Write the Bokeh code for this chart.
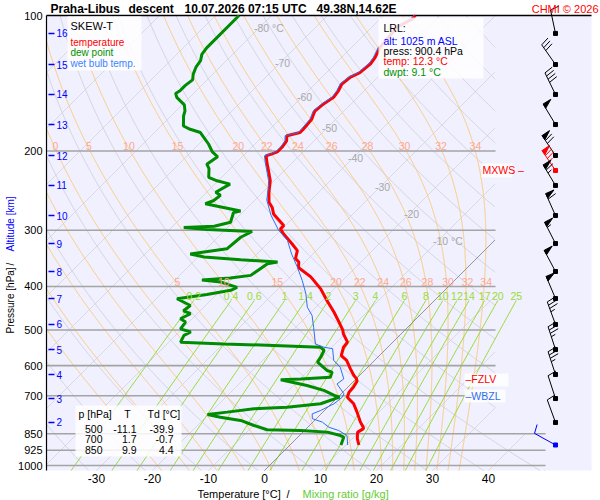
import numpy as np
from bokeh.plotting import figure
from bokeh.models import Range1d, Label
from bokeh.embed import file_html
from bokeh.resources import INLINE

FONT = "Liberation Sans"

# ---------------- data ----------------
temp = [(900.4, 12.3), (872, 10.9), (849, 10.0), (843, 9.8), (828, 10.2), (822, 9.9), (801, 8.5),
        (761, 6.1), (729, 4.0), (705, 1.7), (687, 1.1), (670, 1.0), (650, 0.6), (641, 0.0),
        (631, -1.0), (610, -2.8), (584, -5.0), (570, -6.8), (546, -7.9), (532, -8.1), (510, -10.3),
        (500, -11.1), (480, -13.2), (456, -15.9), (430, -19.2), (405, -22.4), (381, -26.3),
        (363, -30.2), (353, -31.1), (347, -32.3), (333, -33.4), (322, -35.5), (306, -38.8),
        (298, -40.3), (293, -40.3), (285, -42.1), (276, -44.2), (267, -45.6), (260, -47.1),
        (247, -48.9), (233, -50.7), (223, -52.5), (212, -54.6), (205, -55.9), (203, -55.2),
        (201, -54.6), (196, -54.6), (190, -54.9), (185, -55.8), (182, -54.0), (179, -54.0),
        (170, -54.3), (163, -55.2), (157, -54.9), (152, -54.3), (147, -54.6), (142, -55.2),
        (137, -54.9), (134, -54.0), (128, -53.7), (124, -54.0), (118, -54.9), (106, -55.5),
        (102, -54.3), (100, -54.3)]

dewp = [(900.4, 9.1), (865, 8.2), (858, 7.3), (843, 4.4), (836, -0.7), (833, -6.8), (815, -9.9),
        (794, -13.2), (781, -17.4), (770, -20.2), (761, -17.1), (748, -12.9), (742, -7.3),
        (729, -1.9), (705, 0.3), (700, -0.7), (681, -3.7), (664, -7.6), (645, -13.3), (642, -9.9),
        (637, -4.9), (620, -5.5), (615, -6.7), (589, -9.9), (574, -10.2), (555, -10.8),
        (546, -12.0), (541, -20.7), (537, -29.9), (532, -37.9), (514, -38.5), (505, -37.9),
        (497, -40.3), (480, -40.6), (472, -42.1), (460, -41.2), (453, -43.0), (441, -42.7),
        (426, -46.3), (417, -41.7), (408, -38.2), (402, -37.6), (391, -41.5), (387, -45.2),
        (383, -40.5), (378, -37.3), (356, -36.4), (353, -34.9), (349, -41.9), (344, -48.9),
        (339, -51.9), (330, -46.3), (311, -45.9), (302, -44.9), (299, -53.2), (296, -57.8),
        (294, -52.6), (288, -50.4), (274, -51.6), (272, -50.6), (267, -54.3), (262, -58.2),
        (258, -57.3), (251, -57.0), (247, -58.4), (237, -57.3), (233, -60.2), (229, -62.3),
        (219, -63.8), (214, -65.0), (206, -64.4), (201, -66.2), (193, -68.3), (182, -71.8),
        (179, -74.2), (176, -76.0), (167, -77.8), (163, -78.4), (158, -79.6), (152, -82.3),
        (149, -83.2), (147, -82.9), (143, -82.9), (139, -82.6), (135, -83.5), (130, -84.3),
        (126, -84.6), (122, -85.5), (118, -85.8), (100, -85.8)]

wetb = [(900.4, 10.3), (858, 8.5), (836, 6.1), (822, 3.75), (801, 1.7), (787, -0.7), (768, -1.6),
        (755, -0.7), (729, 0.5), (705, 0.8), (693, 0.5), (659, -2.5), (642, -2.2), (605, -4.9),
        (584, -7.3), (550, -9.6), (546, -11.4), (537, -13.5), (493, -16.8), (464, -19.2),
        (445, -21.5), (415, -24.2), (388, -27.2), (362, -30.5), (339, -33.8), (316, -37.0),
        (300, -40.4), (278, -44.4), (257, -47.9), (243, -49.6), (233, -51.0), (223, -52.8),
        (212, -54.9), (205, -56.2), (201, -54.9), (196, -54.9), (190, -55.2), (185, -56.1),
        (182, -54.3), (170, -54.6), (163, -55.5), (157, -55.2), (152, -54.6), (147, -54.9),
        (142, -55.5), (137, -55.2), (134, -54.3), (128, -54.0), (124, -54.3), (118, -55.2),
        (106, -55.8), (102, -54.6), (100, -54.6)]

alt_km = [16, 15, 14, 13, 12, 11, 10, 9, 8, 7, 6, 5, 4, 3, 2]
alt_p = [109.6, 128.5, 149.8, 174.7, 204.7, 238.6, 278.3, 321.2, 370.6, 425.5, 486.0, 552.5, 627.8, 709.9, 802.3]

wind_p = [109.6, 128.5, 149.8, 174.7, 204.7, 221.0, 238.6, 278.3, 321.2, 370.6, 425.5, 486.0, 552.5, 627.8, 709.9, 802.3, 900.4]
wind_dir = [348, 325, 334, 329, 326, 326, 329, 336, 333, 332, 337, 340, 342, 342, 342, 340, 299]
wind_kt = [10, 30, 40, 50, 70, 75, 65, 60, 55, 50, 50, 35, 35, 35, 10, 10, 10]
wind_col = ["black"] * 5 + ["red"] + ["black"] * 10 + ["blue"]

mxws_p = 221.0
fzlv_p = 644.0
wbzl_p = 699.0

p_ticks = [100, 200, 300, 400, 500, 600, 700, 850, 925, 1000]
t_ticks = [-30, -20, -10, 0, 10, 20, 30, 40]
iso_T = list(range(-130, 60, 10))
theta_K = list(range(220, 470, 10))
thw_vals = [-20, -15, -10, -5, 0, 5, 10, 15, 20, 22, 24, 26, 28, 30, 32, 34]
thw_row1 = [0, 5, 10, 15, 20, 22, 24, 26, 28, 30, 32, 34]
thw_row2 = [5, 10, 15, 20, 22, 24, 26, 28, 30, 32, 34]
mix_vals = [0.2, 0.4, 0.6, 1, 1.4, 2, 3, 4, 6, 8, 10, 12, 14, 17, 20, 25]
mix_text = ["0.2", "0.4", "0.6", "1", "1.4", "2", "3", "4", "6", "8", "10", "12", "14", "17", "20", "25"]
iso_lab = [(-80, 27, "-80 °C"), (-70, 62, "-70"), (-60, 96, "-60"), (-50, 127, "-50"),
           (-40, 157, "-40"), (-30, 186, "-30"), (-20, 213, "-20"), (-10, 240, "-10 °C")]
table_p = ["500", "700", "850"]
table_t = ["-11.1", "1.7", "9.9"]
table_td = ["-39.9", "-0.7", "4.4"]

# ---------------- geometry ----------------
W, H = 600, 500
PXD = 450.0          # pixels per pressure decade
PXT = 5.6            # pixels per degree C
SKEW = PXD / PXT
PB = 1000 * 10 ** (5 / PXD)   # pressure at the bottom of the diagram


def Xref(x):
    return (x - 264) / PXT


def Pref(y):
    return 100 * 10 ** ((y - 15) / PXD)


XL = Xref(46)
XRR = Xref(591)
XCLIP = Xref(495)
XCLIP2 = Xref(545)


def X(T, pp):
    return np.asarray(T, float) + SKEW * np.log10(PB / np.asarray(pp, float))


def clip(xs, pp):
    xs = np.array(xs, float)
    pp = np.asarray(pp, float)
    lim = np.where(pp >= 850, XCLIP2, XCLIP)
    xs[(xs > lim) | (xs < XL)] = np.nan
    return xs


p = figure(width=W, height=H, x_range=Range1d(Xref(0), Xref(W)), y_range=Range1d(Pref(H), Pref(0)),
           y_axis_type="log", output_backend="svg", toolbar_location=None,
           x_axis_location=None, y_axis_location=None, min_border=0)
p.background_fill_color = "white"
p.border_fill_color = "white"
p.outline_line_color = None
p.grid.visible = False

# diagram background
p.quad(left=[XL], right=[XRR], top=[100], bottom=[PB], fill_color="#F0F0FF", line_color=None)

pg = np.logspace(np.log10(PB), 2, 700)

# dry adiabats
xs, ys = [], []
for th in theta_K:
    T = th * (pg / 1000.0) ** 0.2857 - 273.15
    xs.append(clip(X(T, pg), pg)); ys.append(pg)
p.multi_line(xs, ys, line_color="#CFCFD8", line_width=0.9)

# isotherms
xs, ys = [], []
for t in iso_T:
    xs.append(clip(X(np.full_like(pg, t), pg), pg)); ys.append(pg)
p.multi_line(xs, ys, line_color="#CFCFD8", line_width=0.9)


# moist adiabats
def dTdp(T, pp):
    Tc = T - 273.15
    es = 6.112 * np.exp(17.67 * Tc / (Tc + 243.5))
    rs = 0.622 * es / (pp - es)
    return (287.04 * T + 2.501e6 * rs) / (pp * (1005.7 + 2.501e6 ** 2 * rs * 0.622 / (287.04 * T * T)))


def moist(tw, grid):
    out = []
    T = tw + 273.15
    pp = grid[0]
    out.append(T)
    for pn in grid[1:]:
        h = pn - pp
        k1 = dTdp(T, pp)
        k2 = dTdp(T + h * k1 / 2, pp + h / 2)
        k3 = dTdp(T + h * k2 / 2, pp + h / 2)
        k4 = dTdp(T + h * k3, pp + h)
        T = T + h * (k1 + 2 * k2 + 2 * k3 + k4) / 6
        pp = pn
        out.append(T)
    return np.array(out) - 273.15


pu = np.linspace(1000, 100, 451)
pdn = np.linspace(1000, PB, 8)
moist_x = {}
xs, ys = [], []
for tw in thw_vals:
    Tu = moist(tw, pu)
    Tdn = moist(tw, pdn)
    pp = np.concatenate([pdn[::-1], pu[1:]])
    TT = np.concatenate([Tdn[::-1], Tu[1:]])
    Tg = np.interp(-np.log(pg), -np.log(pp), TT)
    xg = X(Tg, pg)
    moist_x[tw] = xg
    xs.append(clip(xg, pg)); ys.append(pg)
p.multi_line(xs, ys, line_color="#FFC878", line_width=1)

# mixing ratio lines
p_mix_top = Pref(300)
pm = np.logspace(np.log10(PB), np.log10(p_mix_top), 60)
xs, ys = [], []
mix_top_x = []
for w in mix_vals:
    e = pm * w / (622.0 + w)
    a = np.log(e / 6.112)
    Tdw = 243.5 * a / (17.67 - a)
    xx = X(Tdw, pm)
    xx[xx < XL] = np.nan
    xs.append(xx); ys.append(pm)
    mix_top_x.append(xx[-1])
p.multi_line(xs, ys, line_color="#9ADC36", line_width=1)

# isobars
for pr in p_ticks[1:]:
    xr = XCLIP2 if pr >= 850 else XCLIP
    p.line([XL, xr], [pr, pr], line_color="#A4A4A4", line_width=1.6)

# 0 deg isotherm, darker
p.line(clip(X(np.zeros_like(pg), pg), np.full_like(pg, 500.0)), pg, line_color="#808080", line_width=1)

# frame: top and left
p.line([XL, XRR], [100, 100], line_color="black", line_width=1.5)
p.line([XL, XL], [100, PB], line_color="black", line_width=1.2)


def lab(x, y, text, color="black", size="11px", align="left", base="middle", angle=0.0, style="normal"):
    p.add_layout(Label(x=x, y=y, text=text, text_color=color, text_font=FONT, text_font_size=size,
                       text_align=align, text_baseline=base, angle=angle, text_font_style=style))


# line labels
for (t, yy, txt) in iso_lab:
    pr = Pref(yy)
    lab(float(X(t, pr)) - 1.0, pr, txt, color="#A8A8A8", size="10.5px")
for row, yy in ((thw_row1, 145), (thw_row2, 281)):
    pr = Pref(yy)
    for tw in row:
        xv = float(np.interp(-np.log(pr), -np.log(pg), moist_x[tw]))
        lab(xv + 0.3, pr, str(tw), color="#FFA88C", size="10.5px", align="center")
for xv, txt in zip(mix_top_x, mix_text):
    lab(float(xv), Pref(295), txt, color="#9ADC36", size="10.5px", align="center")

# profiles
tp, tt = zip(*temp)
dp, dt = zip(*dewp)
wp, wt = zip(*wetb)
p.line(X(tt, tp), tp, line_color="#FF0000", line_width=3)
p.line(X(dt, dp), dp, line_color="#008C00", line_width=3)
p.line(X(wt, wp), wp, line_color="#2F6FF0", line_width=1)

# altitude ticks
for km, pr in zip(alt_km, alt_p):
    p.line([Xref(48), Xref(54)], [pr, pr], line_color="#0000FF", line_width=1.5)
    lab(Xref(56), pr, str(km), color="#0000FF", size="10px")

# white boxes
p.quad(left=[Xref(67), Xref(378), Xref(75), Xref(481), Xref(464), Xref(464)],
       right=[Xref(141), Xref(483), Xref(181), Xref(512), Xref(508), Xref(505)],
       top=[Pref(16), Pref(17), Pref(405), mxws_p / 10 ** (7 / PXD), fzlv_p / 10 ** (6 / PXD), wbzl_p / 10 ** (6 / PXD)],
       bottom=[Pref(70), Pref(78), Pref(456), mxws_p * 10 ** (7 / PXD), fzlv_p * 10 ** (7 / PXD), wbzl_p * 10 ** (7 / PXD)],
       fill_color="white", fill_alpha=0.85, line_color=None)

# legend
lab(Xref(70), Pref(25), "SKEW-T", size="11px")
lab(Xref(70), Pref(42), "temperature", color="#FF0000", size="10px")
lab(Xref(70), Pref(52), "dew point", color="#009000", size="10px")
lab(Xref(70), Pref(63), "wet bulb temp.", color="#3C82FF", size="10px")

# LRL box
lab(Xref(383), Pref(27), "LRL:", size="10.5px")
lab(Xref(383), Pref(40), "alt: 1025 m ASL", color="#0000FF", size="10.5px")
lab(Xref(383), Pref(50), "press: 900.4 hPa", size="10.5px")
lab(Xref(383), Pref(60), "temp: 12.3 °C", color="#FF0000", size="10.5px")
lab(Xref(383), Pref(71), "dwpt: 9.1 °C", color="#009000", size="10.5px")

# table
lab(Xref(78), Pref(413), "p [hPa]", size="10.5px")
lab(Xref(127), Pref(413), "T", size="10.5px", align="center")
lab(Xref(147), Pref(413), "Td [°C]", size="10.5px")
for i, yy in enumerate([428, 438, 449]):
    lab(Xref(102), Pref(yy), table_p[i], size="10.5px", align="right")
    lab(Xref(136), Pref(yy), table_t[i], size="10.5px", align="right")
    lab(Xref(173), Pref(yy), table_td[i], size="10.5px", align="right")

# level markers
lab(Xref(482), mxws_p, "MXWS –", color="#FF0000", size="10.5px")
lab(Xref(465), fzlv_p, "–FZLV", color="#FF0000", size="10.5px")
lab(Xref(465), wbzl_p, "–WBZL", color="#2F6FF0", size="10.5px")

# wind barbs
X0 = Xref(555)
seg_x, seg_y, seg_c = [], [], []
tri_x, tri_y, tri_c = [], [], []
for pr, d, kt, col in zip(wind_p, wind_dir, wind_kt, wind_col):
    rad = np.deg2rad(d)
    s = np.array([np.sin(rad), np.cos(rad)])
    b = np.array([np.cos(rad), -np.sin(rad)])

    def pt(v, pr=pr):
        return X0 + v[0] / PXT, pr * 10 ** (-v[1] / PXD)

    L = 24.0
    segs = [[pt(np.zeros(2)), pt(s * L)]]
    tris = []
    n50 = kt // 50
    r = kt - 50 * n50
    n10 = r // 10
    n5 = (r - 10 * n10) // 5
    pos = L
    for i in range(n50):
        tris.append([pt(s * pos), pt(s * pos + b * 9), pt(s * (pos - 5))])
        pos -= 6
    for i in range(n10):
        segs.append([pt(s * pos), pt(s * (pos + 2) + b * 9)])
        pos -= 3.5
    if n5:
        if n50 == 0 and n10 == 0:
            pos -= 3.5
        segs.append([pt(s * pos), pt(s * (pos + 1) + b * 4.5)])
    for sg in segs:
        seg_x.append([sg[0][0], sg[1][0]]); seg_y.append([sg[0][1], sg[1][1]]); seg_c.append(col)
    for tr in tris:
        tri_x.append([q[0] for q in tr]); tri_y.append([q[1] for q in tr]); tri_c.append(col)
p.multi_line(seg_x, seg_y, line_color=seg_c, line_width=1)
if tri_x:
    p.patches(tri_x, tri_y, fill_color=tri_c, line_color=tri_c, line_width=1)
p.scatter([X0] * len(wind_p), wind_p, marker="square", size=4, color=wind_col)

# axis tick labels
for pr in p_ticks:
    lab(Xref(42), pr, str(pr), size="11px", align="right")
for t in t_ticks:
    lab(float(t), Pref(478), str(t), size="12px", align="center")

# title
ty = Pref(8)
lab(Xref(50), ty, "Praha-Libus", size="12px", style="bold")
lab(Xref(128), ty, "descent", size="12px", style="bold")
lab(Xref(184), ty, "10.07.2026 07:15 UTC", size="12px", style="bold")
lab(Xref(316), ty, "49.38N,14.62E", size="12px", style="bold")
lab(Xref(598), ty, "CHMI © 2026", color="#FF0000", size="11px", align="right")

# axis titles
by = Pref(493)
lab(Xref(197), by, "Temperature [°C]", size="11px")
lab(Xref(286), by, "/", size="11px")
lab(Xref(302), by, "Mixing ratio [g/kg]", color="#66CC33", size="11px")

ax = Xref(10)
lab(ax, Pref(333), "Pressure [hPa]", size="10px", angle=np.pi / 2)
lab(ax, Pref(265), "/", size="10px", angle=np.pi / 2)
lab(ax, Pref(251), "Altitude [km]", color="#0000FF", size="10px", angle=np.pi / 2)

open("out.html", "w").write(file_html(p, INLINE))
